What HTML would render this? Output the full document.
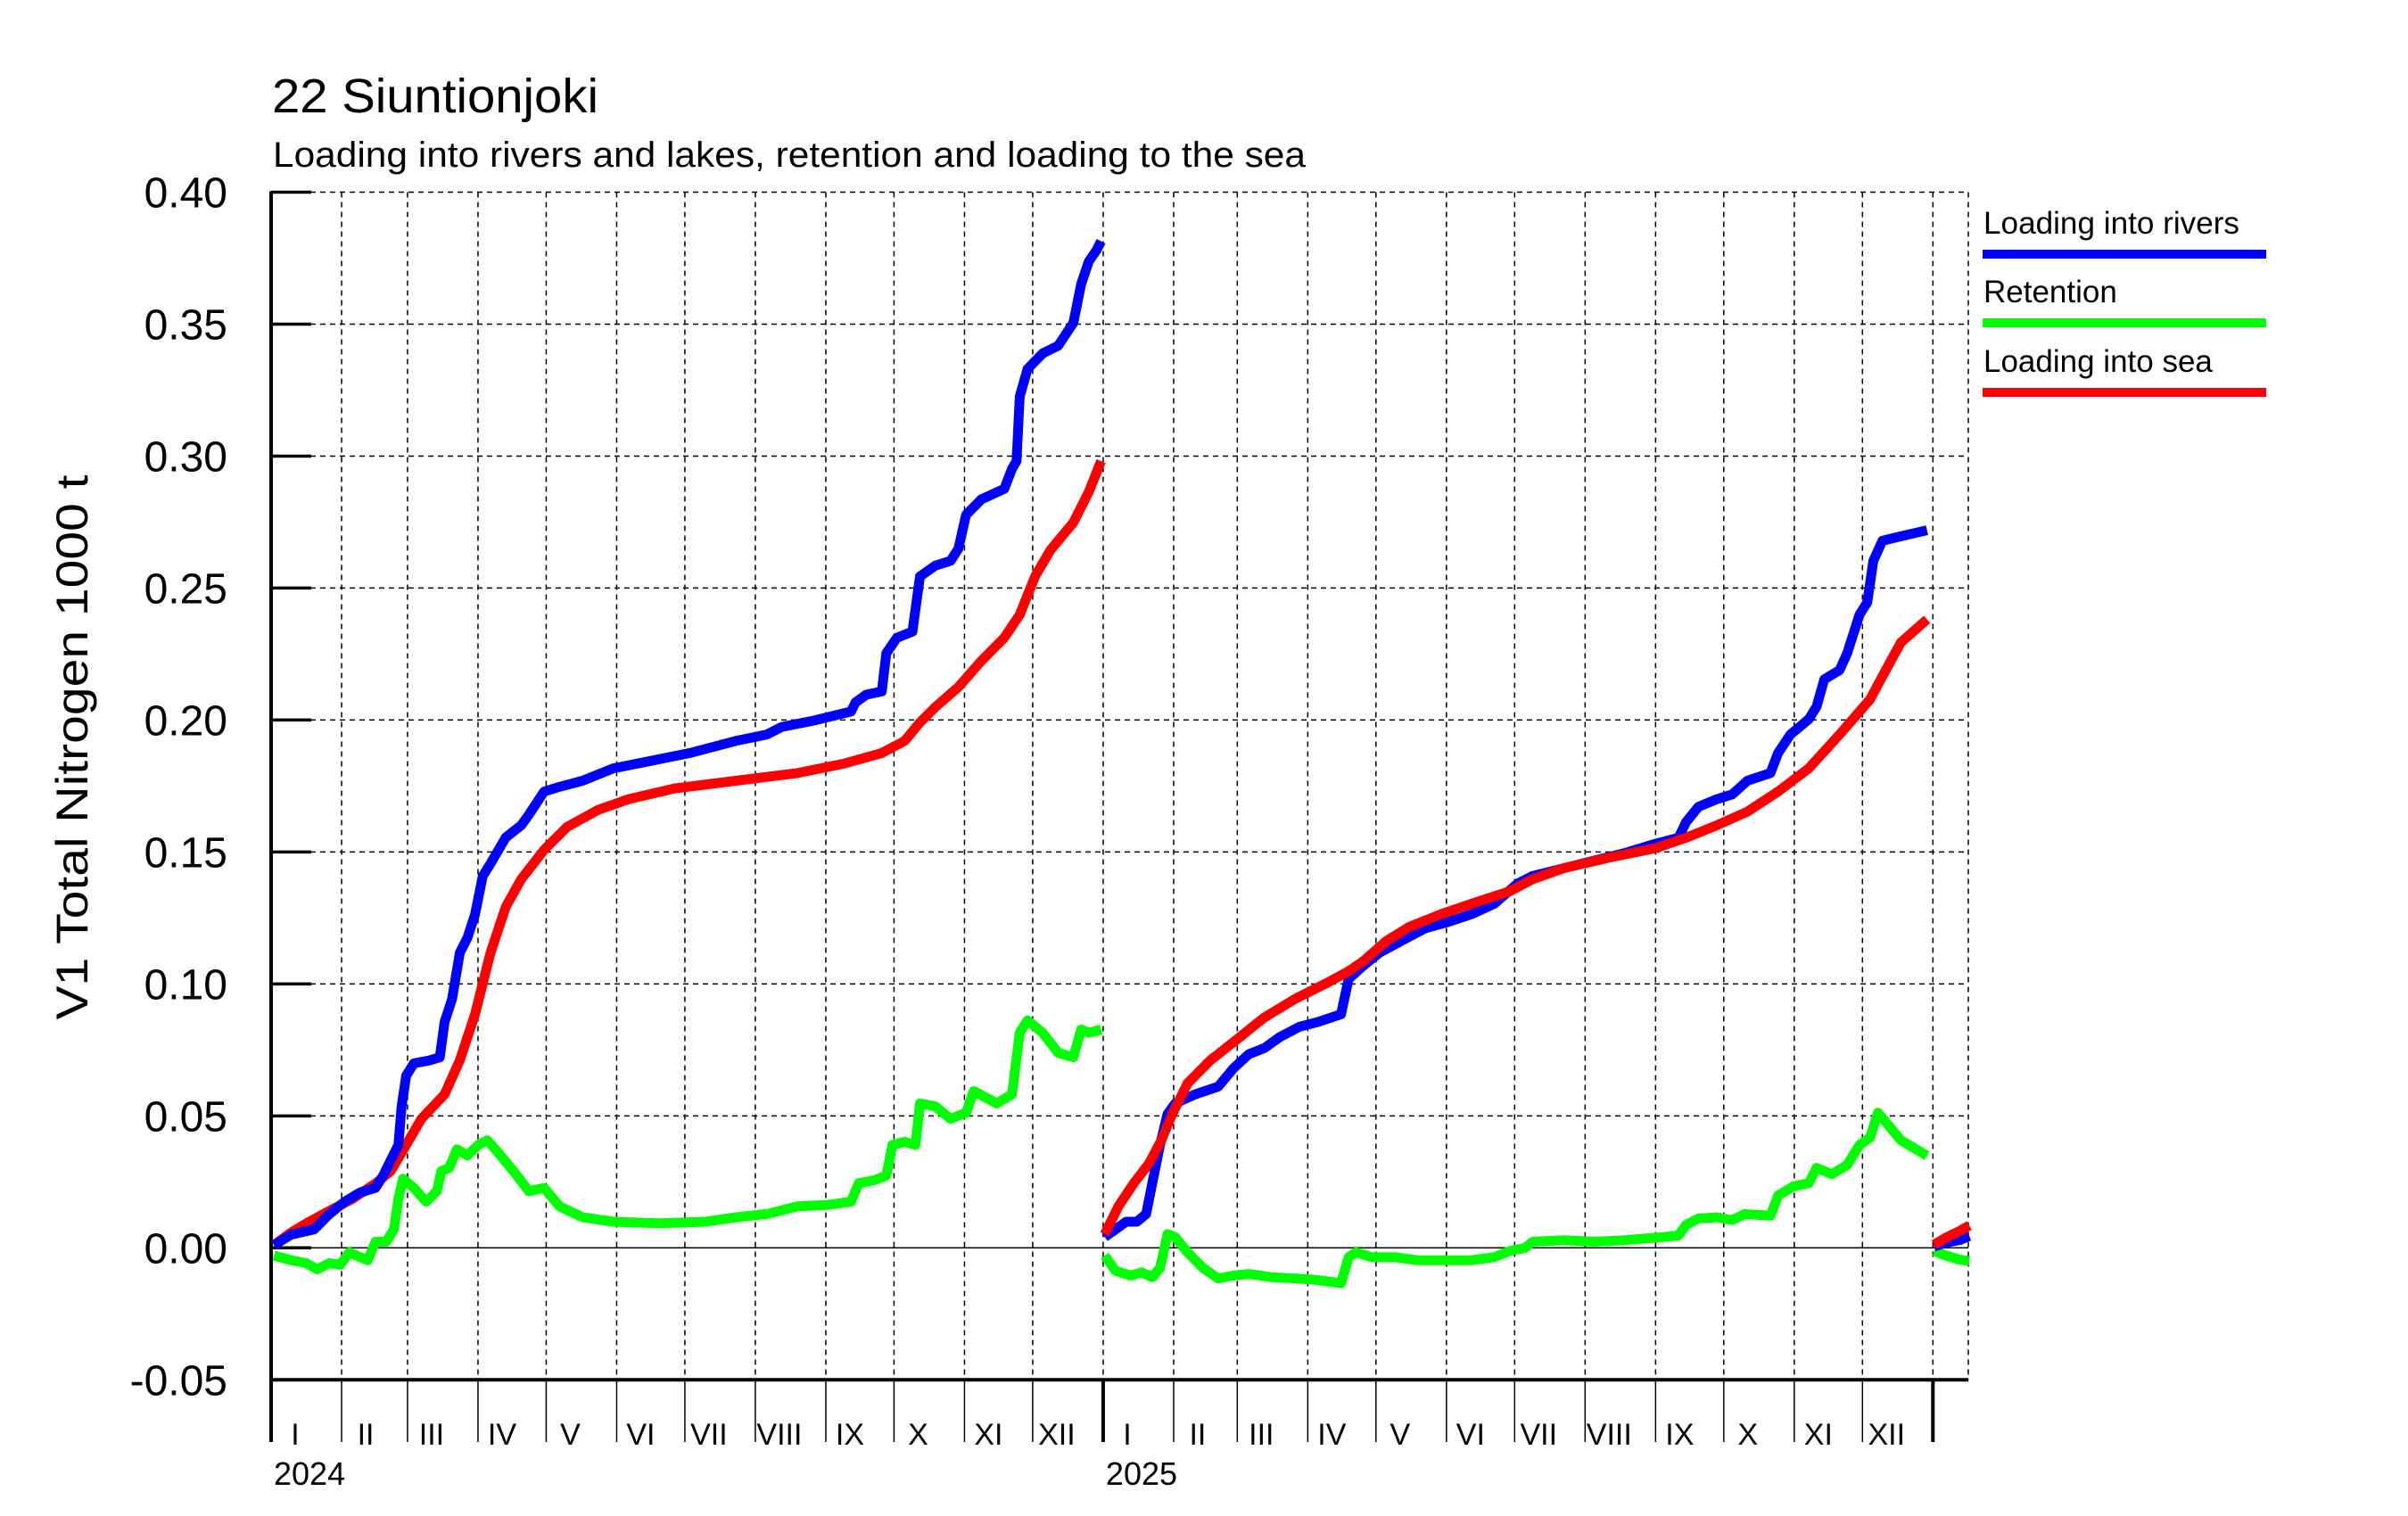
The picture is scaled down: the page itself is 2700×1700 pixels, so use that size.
<!DOCTYPE html>
<html><head><meta charset="utf-8"><title>22 Siuntionjoki</title>
<style>html,body{margin:0;padding:0;background:#fff}svg{display:block}</style></head>
<body>
<svg id="chart" xmlns="http://www.w3.org/2000/svg" width="2700" height="1700" viewBox="0 0 2700 1700" font-family="'Liberation Sans', Arial, sans-serif">
<rect width="2700" height="1700" fill="#fff"/>
<text x="305" y="126" font-size="54" textLength="366" lengthAdjust="spacingAndGlyphs">22 Siuntionjoki</text>
<text x="306" y="187" font-size="40" textLength="1158" lengthAdjust="spacingAndGlyphs">Loading into rivers and lakes, retention and loading to the sea</text>
<text transform="translate(98,838) rotate(-90)" text-anchor="middle" font-size="50" textLength="611" lengthAdjust="spacingAndGlyphs">V1 Total Nitrogen 1000 t</text>
<g id="grid"></g>
<g id="axes"></g>
<g id="series"></g>
<g id="legend">
<text x="2224" y="262" font-size="35" textLength="287" lengthAdjust="spacingAndGlyphs">Loading into rivers</text>
<rect x="2223" y="280" width="318" height="10" fill="#0000ff"/>
<text x="2224" y="339" font-size="35">Retention</text>
<rect x="2223" y="357" width="318" height="10" fill="#00ff00"/>
<text x="2224" y="417" font-size="35">Loading into sea</text>
<rect x="2223" y="435" width="318" height="10" fill="#ff0000"/>
</g>
</svg>
<script>
const yTicks = [0.40,0.35,0.30,0.25,0.20,0.15,0.10,0.05,0.00,-0.05];
const yTickLabels = ["0.40","0.35","0.30","0.25","0.20","0.15","0.10","0.05","0.00","-0.05"];
const monthLabels = ["I","II","III","IV","V","VI","VII","VIII","IX","X","XI","XII"];
const monthStarts2024 = [0,31,60,91,121,152,182,213,244,274,305,335];
const monthStarts2025 = [0,31,59,90,120,151,181,212,243,273,304,334];
const yearLabels = ["2024","2025"];
const yearOffsets = [0,366,731];

const riversDays2024 = [1.3,8.8,18.9,25.6,32.4,39.1,45.9,49.3,52.6,56.0,57.4,59.4,62.8,69.5,74.2,76.3,79.6,83.0,86.4,89.7,93.1,96.5,103.2,110.0,113.4,120.1,126.9,137,150.5,164,184.2,204.5,218,224.7,238.2,255.1,257.1,261.8,268.6,270.6,275.3,282.1,285.4,292.2,298.9,302.3,305.7,312.4,322.5,325.9,327.9,329.3,332.7,339.4,346.2,352.9,356.3,359.7,363.0,365.1];
const riversVals2024 = [.001,.005,.007,.0128,.0175,.021,.0227,.0274,.0332,.039,.0536,.0652,.0699,.071,.0722,.0856,.0943,.1118,.1176,.1263,.1409,.1456,.1555,.1601,.1642,.1729,.1747,.177,.1817,.184,.1875,.1921,.1945,.1974,.1997,.2032,.2067,.2096,.2108,.2253,.2312,.2335,.2544,.2585,.2603,.2649,.2777,.2836,.2876,.2952,.2981,.3226,.333,.3389,.3418,.3505,.3651,.3738,.3779,.3814];
const seaDays2024 = [1.3,8.8,15.5,25.6,35.8,45.9,52.6,59.4,66.1,76.3,83,89.7,96.5,103.2,110,120.1,130.2,143.7,157.2,177.5,204.5,231.5,251.7,268.6,278.7,285.4,292.2,302.3,312.4,322.5,329.3,336.1,342.8,352.9,359.7,365.1];
const seaVals2024 = [.001,.0058,.0093,.014,.0186,.0244,.0291,.039,.0489,.0582,.0711,.0885,.1118,.1292,.1397,.1508,.1595,.1659,.17,.1741,.177,.1799,.1834,.1875,.1921,.1991,.2049,.2125,.2224,.2312,.2399,.2545,.2644,.2748,.2865,.2981];
const retDays2024 = [1.3,8.8,15.5,20.2,25.6,30.4,34.4,39.1,42.5,45.9,50.6,54,56,58,62.8,68.2,72.9,74.9,78.3,81.7,86.4,91.1,95.1,99.9,106.6,113.4,120.1,126.9,137,150.5,170.7,191,204.5,218,231.5,245,255.1,258.5,265.2,270.6,273.3,278.7,283.4,285.4,292.2,298.9,305.7,309.1,319.2,325.9,329.3,332.7,339.4,346.2,352.9,356.3,359.7,365.1];
const retVals2024 = [-.0029,-.0047,-.0058,-.0081,-.0058,-.0064,-.0017,-.0035,-.0047,.0023,.0023,.007,.0186,.0262,.0227,.0175,.0215,.0291,.0303,.0373,.035,.039,.0408,.0361,.0291,.0215,.0227,.0157,.0116,.0099,.0093,.0099,.0116,.0128,.0157,.0163,.0175,.0245,.0256,.0274,.039,.0402,.039,.0547,.0536,.0489,.0512,.0594,.0547,.0582,.0815,.0862,.0815,.0739,.0722,.0827,.0815,.0827];

const riversDays2025 = [0.7,5.4,10.1,14.8,18.9,21.6,25,28.3,31.7,40.5,50.6,57.4,64.1,70.9,77.6,86.4,94.5,104.6,108,114.7,121.5,131.6,141.7,151.8,162,172.1,182.2,188.9,202.4,215.9,229.4,242.9,253.1,256.4,261.8,269.9,276.7,283.4,293.5,296.9,302.3,310.4,313.8,317.2,323.9,327.3,332.7,336.1,338.8,342.8,350.9,362.4];
const riversVals2025 = [.0041,.007,.0099,.0099,.0128,.0245,.039,.0507,.0547,.0582,.0611,.0681,.0734,.0757,.0798,.0838,.0856,.0885,.1019,.1071,.1118,.1165,.1211,.1235,.1264,.1304,.138,.1409,.1438,.1467,.1496,.1531,.1554,.1613,.1671,.17,.1718,.177,.1799,.1875,.1945,.2003,.205,.2154,.2189,.2253,.2399,.2446,.2603,.2679,.2696,.2719];
const seaDays2025 = [0.7,6.7,13.5,20.2,25.6,30.4,37.1,47.2,57.4,70.9,84.4,97.8,108,114.7,124.8,134.9,148.5,162,178.8,188.9,202.4,222.7,242.9,256.4,269.9,283.4,296.9,310.4,323.9,337.4,342.8,350.9,362.4];
const seaVals2025 = [.0052,.0157,.0245,.032,.0408,.0507,.0623,.0711,.078,.0873,.0943,.1001,.1048,.1088,.1164,.1217,.1264,.1304,.1351,.1397,.1438,.1479,.1514,.1554,.1601,.1653,.1729,.1817,.1945,.2079,.2166,.2294,.2381];
const retDays2025 = [0.7,5.4,12.1,16.9,21.6,25,28.3,31.7,37.1,43.9,50.6,57.4,64.1,74.2,84.4,94.5,104.6,108,111.3,118.1,128.2,138.3,151.8,162,172.1,178.8,185.6,188.9,202.4,215.9,229.4,246.3,253.1,256.4,261.8,269.9,276.7,282.1,293.5,296.9,303.6,310.4,313.8,320.5,327.3,332.7,337.4,340.8,344.2,350.9,362.4];
const retVals2025 = [-.0029,-.0087,-.0105,-.0093,-.0111,-.0076,.0052,.0041,-.0017,-.0076,-.0116,-.0105,-.0099,-.0111,-.0116,-.0122,-.0134,-.0035,-.0017,-.0035,-.0035,-.0047,-.0047,-.0047,-.0035,-.0012,.0000,.0023,.0029,.0023,.0029,.0041,.0047,.0087,.0111,.0116,.0105,.0128,.0122,.0198,.0233,.0245,.0303,.0279,.0314,.039,.0419,.0512,.0477,.0408,.0349];

const riversDays2026 = [0.5,6,12,16];
const riversVals2026 = [.0005,.002,.003,.0045];
const seaDays2026 = [0.5,6,12,16];
const seaVals2026 = [.0012,.004,.0065,.0085];
const retDays2026 = [0.5,6,12,16];
const retVals2026 = [-.0012,-.003,-.0045,-.005];

const X0 = 304, PXDAY = 2.549, Y0 = 1399.3, PXUNIT = 2959.5, XEND = 2207;
function xs(off, d){ return X0 + (off + d) * PXDAY; }
function ys(v){ return Y0 - v * PXUNIT; }
const NS = "http://www.w3.org/2000/svg";
function mk(tag, attrs, parent){ const e = document.createElementNS(NS, tag); for (const k in attrs) e.setAttribute(k, attrs[k]); parent.appendChild(e); return e; }
const grid = document.getElementById('grid'), axes = document.getElementById('axes'), series = document.getElementById('series');
const yTop = ys(0.40), yBot = ys(-0.05);

yTicks.forEach((v,i)=>{
  const y = ys(v);
  if (v > 0.001) {
    const l = mk('line',{x1:X0,x2:XEND,y1:y,y2:y,stroke:'#000','stroke-width':1.5,'stroke-dasharray':'6,5'},grid);
    
    
  } else if (Math.abs(v) < 0.001) {
    const l = mk('line',{x1:X0,x2:XEND,y1:y,y2:y,stroke:'#000','stroke-width':1.5},grid);
    
    
  }
  const t = mk('line',{x1:X0,x2:X0+45,y1:y,y2:y,stroke:'#000','stroke-width':3.5},axes);
  
  
  const tx = mk('text',{x:255,y:y+17,'text-anchor':'end','font-size':48},axes);
  tx.textContent = yTickLabels[i];
  
  
});

[[0,monthStarts2024],[366,monthStarts2025],[731,[0]]].forEach(([off,starts],yi)=>{
  starts.forEach((s,mi)=>{
    const x = xs(off,s);
    if (!(off===0 && s===0)) {
      const g = mk('line',{x1:x,x2:x,y1:yTop,y2:yBot,stroke:'#000','stroke-width':1.5,'stroke-dasharray':'6,5'},grid);
      
      
    }
    const big = s===0;
    const tk = mk('line',{x1:x,x2:x,y1:yBot,y2:1617,stroke:'#000','stroke-width':big?4:1.5},axes);
    
    
    if (yi < 2) {
      const lb = mk('text',{x:x+27,y:1620,'text-anchor':'middle','font-size':34},axes);
      lb.textContent = monthLabels[mi];
      
      
    }
  });
  if (yi < 2) {
    const yl = mk('text',{x:xs(off,0)+3,y:1665,'font-size':36},axes);
    yl.textContent = yearLabels[yi];
    
    
  }
});
const rg = mk('line',{x1:XEND,x2:XEND,y1:yTop,y2:yBot,stroke:'#000','stroke-width':1.5,'stroke-dasharray':'6,5'},grid);


const ya = mk('line',{x1:X0,x2:X0,y1:yTop-1,y2:1617,stroke:'#000','stroke-width':4},axes);


const xa = mk('line',{x1:X0,x2:XEND,y1:yBot,y2:yBot,stroke:'#000','stroke-width':4},axes);



function drawLine(off, days, vals, color, name){
  const d = days.map((dd,i)=>(i?'L':'M')+xs(off,dd).toFixed(1)+','+ys(vals[i]).toFixed(1)).join(' ');
  const p = mk('path',{d:d,fill:'none',stroke:color,'stroke-width':11,'stroke-linejoin':'round','stroke-linecap':'butt'},series);
  
  
}
drawLine(0, retDays2024, retVals2024, '#00ff00', 'retention-line-2024');
drawLine(0, seaDays2024, seaVals2024, '#ff0000', 'sea-loading-line-2024');
drawLine(0, riversDays2024, riversVals2024, '#0000ff', 'river-loading-line-2024');
drawLine(366, retDays2025, retVals2025, '#00ff00', 'retention-line-2025');
drawLine(366, riversDays2025, riversVals2025, '#0000ff', 'river-loading-line-2025');
drawLine(366, seaDays2025, seaVals2025, '#ff0000', 'sea-loading-line-2025');
drawLine(731, retDays2026, retVals2026, '#00ff00', 'retention-line-2026');
drawLine(731, riversDays2026, riversVals2026, '#0000ff', 'river-loading-line-2026');
drawLine(731, seaDays2026, seaVals2026, '#ff0000', 'sea-loading-line-2026');
</script>
</body></html>
